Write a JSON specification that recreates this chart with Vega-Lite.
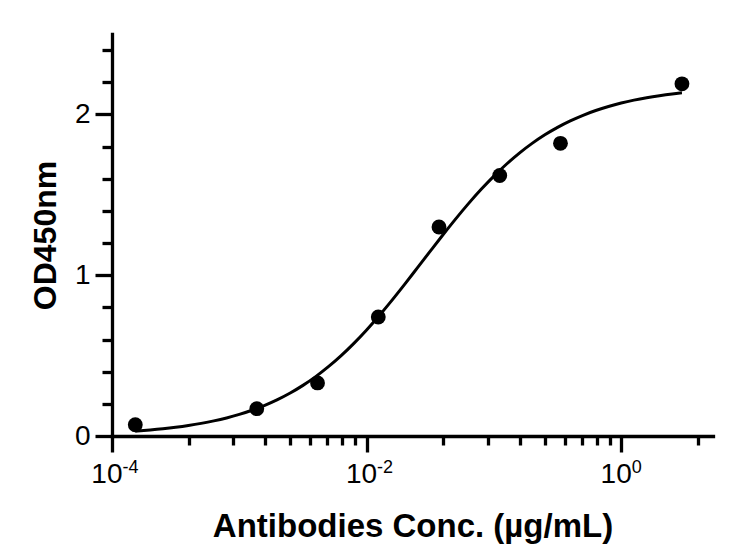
{
  "$schema": "https://vega.github.io/schema/vega-lite/v6.json",
  "autosize": "none",
  "width": 601,
  "height": 402,
  "padding": {"left": 112, "top": 34, "right": 22, "bottom": 108},
  "background": "white",
  "config": {"view": {"stroke": null}, "font": "Liberation Sans"},
  "datasets": {
    "curve": [
      {"conc": 0.0001524, "od": 0.0302},
      {"conc": 0.00019953, "od": 0.0375},
      {"conc": 0.00025119, "od": 0.0451},
      {"conc": 0.00031623, "od": 0.0543},
      {"conc": 0.00039811, "od": 0.0653},
      {"conc": 0.00050119, "od": 0.0784},
      {"conc": 0.00063096, "od": 0.0939},
      {"conc": 0.00079433, "od": 0.1124},
      {"conc": 0.001, "od": 0.1344},
      {"conc": 0.0012589, "od": 0.1603},
      {"conc": 0.0015849, "od": 0.1907},
      {"conc": 0.0019953, "od": 0.2262},
      {"conc": 0.0025119, "od": 0.2674},
      {"conc": 0.0031623, "od": 0.3149},
      {"conc": 0.0039811, "od": 0.3693},
      {"conc": 0.0050119, "od": 0.4309},
      {"conc": 0.0063096, "od": 0.4999},
      {"conc": 0.0079433, "od": 0.5763},
      {"conc": 0.01, "od": 0.6598},
      {"conc": 0.012589, "od": 0.7497},
      {"conc": 0.015849, "od": 0.8453},
      {"conc": 0.019953, "od": 0.9449},
      {"conc": 0.025119, "od": 1.047},
      {"conc": 0.031623, "od": 1.1496},
      {"conc": 0.039811, "od": 1.2513},
      {"conc": 0.050119, "od": 1.3504},
      {"conc": 0.063096, "od": 1.445},
      {"conc": 0.079433, "od": 1.534},
      {"conc": 0.1, "od": 1.6164},
      {"conc": 0.12589, "od": 1.6916},
      {"conc": 0.15849, "od": 1.7595},
      {"conc": 0.19953, "od": 1.8198},
      {"conc": 0.25119, "od": 1.8732},
      {"conc": 0.31623, "od": 1.9197},
      {"conc": 0.39811, "od": 1.9599},
      {"conc": 0.50119, "od": 1.9946},
      {"conc": 0.63096, "od": 2.0242},
      {"conc": 0.79433, "od": 2.0494},
      {"conc": 1.0, "od": 2.0708},
      {"conc": 1.2589, "od": 2.0888},
      {"conc": 1.5849, "od": 2.1039},
      {"conc": 1.9953, "od": 2.1166},
      {"conc": 2.5119, "od": 2.1273},
      {"conc": 3.0, "od": 2.1342}
    ],
    "points": [
      {"conc": 0.0001524, "od": 0.07},
      {"conc": 0.001372, "od": 0.17},
      {"conc": 0.004115, "od": 0.33},
      {"conc": 0.01235, "od": 0.74},
      {"conc": 0.03704, "od": 1.3},
      {"conc": 0.1111, "od": 1.62},
      {"conc": 0.3333, "od": 1.82},
      {"conc": 3.0, "od": 2.19}
    ]
  },
  "layer": [
    {
      "data": {"name": "curve"},
      "mark": {"type": "line", "color": "black", "strokeWidth": 3, "interpolate": "monotone"},
      "encoding": {
        "x": {
          "field": "conc", "type": "quantitative",
          "scale": {"type": "log", "domain": [0.0001, 5.26], "nice": false, "zero": false},
          "axis": {
            "orient": "bottom",
            "values": [0.0001, 0.01, 1],
            "labelExpr": "'10'",
            "labelAlign": "right", "labelOffset": 10,
            "labelFlush": false, "labelOverlap": false, "labelBound": false,
            "labelFont": "Liberation Sans", "labelFontSize": 28, "labelColor": "black",
            "labelPadding": 8,
            "grid": false,
            "domain": true, "domainColor": "black", "domainWidth": 3.3, "domainCap": "square",
            "ticks": true, "tickColor": "black", "tickWidth": 3.3, "tickSize": 16,
            "title": "Antibodies Conc. (µg/mL)",
            "titleFont": "Liberation Sans", "titleFontSize": 33, "titleFontWeight": "bold", "titleColor": "black",
            "titleBaseline": "alphabetic", "titleY": 100
          }
        },
        "y": {
          "field": "od", "type": "quantitative",
          "scale": {"domain": [0, 2.5], "nice": false},
          "axis": {
            "orient": "left",
            "values": [0, 1, 2],
            "format": "d",
            "labelFont": "Liberation Sans", "labelFontSize": 28, "labelColor": "black",
            "labelPadding": 5, "labelFlush": false, "labelOverlap": false,
            "grid": false,
            "domain": true, "domainColor": "black", "domainWidth": 3.3, "domainCap": "square",
            "ticks": true, "tickColor": "black", "tickWidth": 3.3, "tickSize": 17,
            "title": "OD450nm",
            "titleFont": "Liberation Sans", "titleFontSize": 32, "titleFontWeight": "bold", "titleColor": "black",
            "titleAngle": -90, "titleBaseline": "alphabetic", "titleAlign": "center",
            "titleX": -57, "titleY": 201
          }
        }
      }
    },
    {
      "data": {"name": "points"},
      "mark": {"type": "circle", "color": "black", "opacity": 1, "size": 220},
      "encoding": {
        "x": {
          "field": "conc", "type": "quantitative",
          "axis": {
            "orient": "bottom",
            "values": [0.0004, 0.0009, 0.0016, 0.0025, 0.0036, 0.0049, 0.0064, 0.0081, 0.04, 0.09, 0.16, 0.25, 0.36, 0.49, 0.64, 0.81, 4],
            "labels": false, "domain": false, "grid": false,
            "ticks": true, "tickColor": "black", "tickWidth": 3.3, "tickSize": 9,
            "title": null
          }
        },
        "y": {
          "field": "od", "type": "quantitative",
          "axis": {
            "orient": "left",
            "values": [0.2, 0.4, 0.6, 0.8, 1.2, 1.4, 1.6, 1.8, 2.2, 2.4],
            "labels": false, "domain": false, "grid": false,
            "ticks": true, "tickColor": "black", "tickWidth": 3.3, "tickSize": 10,
            "title": null
          }
        }
      }
    },
    {
      "data": {"name": "points"},
      "mark": {"type": "circle", "opacity": 0, "size": 1},
      "encoding": {
        "x": {
          "field": "conc", "type": "quantitative",
          "axis": {
            "orient": "bottom",
            "values": [0.0001, 0.01, 1],
            "labelExpr": "datum.value < 0.001 ? '-4' : datum.value < 0.1 ? '-2' : '0'",
            "labelAlign": "left", "labelOffset": 10,
            "labelFlush": false, "labelOverlap": false, "labelBound": false,
            "labelFont": "Liberation Sans", "labelFontSize": 18, "labelColor": "black",
            "labelPadding": 22,
            "domain": false, "grid": false, "ticks": false,
            "title": null
          }
        }
      }
    }
  ],
  "resolve": {"axis": {"x": "independent", "y": "independent"}}
}
